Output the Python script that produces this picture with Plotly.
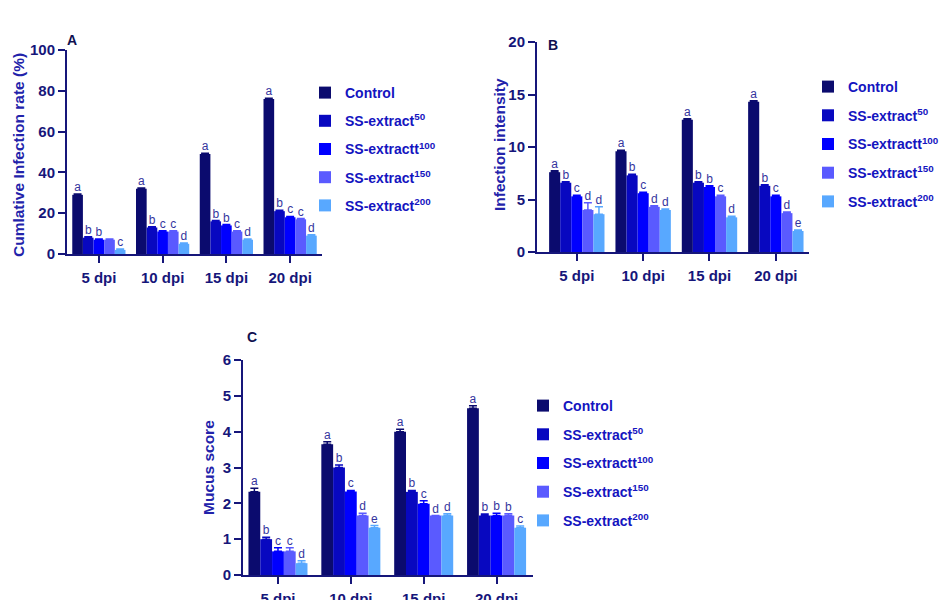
import plotly.graph_objects as go

W, H = 952, 600
OFF = 8  # page body margin of the rendered html

timepoints = ["5 dpi", "10 dpi", "15 dpi", "20 dpi"]
treatments = ["Control", "SS-extract<sup>50</sup>", "SS-extractt<sup>100</sup>",
              "SS-extract<sup>150</sup>", "SS-extract<sup>200</sup>"]
colors = ["#0b0b6e", "#0808c0", "#0000ff", "#5a5aff", "#58a8ff"]

# Panel A: cumulative infection rate (%) per treatment across timepoints
rate_vals = [[29, 32, 49, 76], [8, 13, 16, 21], [7, 11, 14, 18], [7, 11, 11, 17], [2, 5, 7, 9]]
rate_err = [[0.4, 0.4, 0.4, 0.4]] * 5
rate_letters = [["a", "a", "a", "a"], ["b", "b", "b", "b"], ["b", "c", "b", "c"],
                ["", "c", "c", "c"], ["c", "d", "d", "d"]]

# Panel B: infection intensity
inten_vals = [[7.6, 9.6, 12.6, 14.3], [6.6, 7.3, 6.6, 6.3], [5.3, 5.6, 6.2, 5.3],
              [4.0, 4.3, 5.3, 3.7], [3.6, 4.0, 3.3, 2.0]]
inten_err = [[0.15, 0.1, 0.1, 0.1], [0.1, 0.1, 0.1, 0.1], [0.1, 0.1, 0.1, 0.1],
             [0.7, 0.1, 0.1, 0.1], [0.7, 0.1, 0.1, 0.1]]
inten_letters = [["a", "a", "a", "a"], ["b", "b", "b", "b"], ["c", "c", "b", "c"],
                 ["d", "d", "c", "d"], ["d", "d", "d", "e"]]

# Panel C: mucus score
mucus_vals = [[2.32, 3.65, 4.0, 4.65], [1.0, 3.0, 2.32, 1.66], [0.66, 2.33, 1.99, 1.66],
              [0.66, 1.66, 1.66, 1.66], [0.33, 1.32, 1.66, 1.32]]
mucus_err = [[0.1, 0.07, 0.07, 0.07], [0.05, 0.07, 0.04, 0.04], [0.1, 0.03, 0.08, 0.06],
             [0.1, 0.06, 0.0, 0.05], [0.07, 0.06, 0.05, 0.05]]
mucus_letters = [["a", "a", "a", "a"], ["b", "b", "b", "b"], ["c", "c", "c", "b"],
                 ["c", "d", "d", "b"], ["d", "e", "d", "c"]]

NAVY = "#16167a"
TITLE_BLUE = "#2222aa"
LEG_BLUE = "#1414c0"
LETTER = "#35359e"
FONT = "Liberation Sans, Arial, sans-serif"


def px_x(p):
    return (p - OFF) / W


def px_y(p):
    return 1 - (p - OFF) / H


panels = [
    dict(vals=rate_vals, err=rate_err, letters=rate_letters, xa="x", ya="y",
         xd=[67, 322], yd=[50, 254], xr=[-0.5, 3.5], yr=[0, 100], dt=20, w=0.167,
         legend="legend", title="Cumlative Infection rate (%)", tx=18, ty=155,
         label="A", lx=72, ly=40),
    dict(vals=inten_vals, err=inten_err, letters=inten_letters, xa="x2", ya="y2",
         xd=[537, 809], yd=[42, 252], xr=[-0.6, 3.5], yr=[0, 20], dt=5, w=0.167,
         legend="legend2", title="Infection intensity", tx=500, ty=145,
         label="B", lx=553, ly=45),
    dict(vals=mucus_vals, err=mucus_err, letters=mucus_letters, xa="x3", ya="y3",
         xd=[243, 533], yd=[360, 575], xr=[-0.48, 3.5], yr=[0, 6], dt=1, w=0.162,
         legend="legend3", title="Mucus score", tx=208, ty=468,
         label="C", lx=252, ly=337),
]

fig = go.Figure()
annotations = []
layout = {}

for pi, p in enumerate(panels):
    for j in range(5):
        xs = [i + (j - 2) * p["w"] for i in range(len(timepoints))]
        fig.add_trace(go.Bar(
            x=xs, y=p["vals"][j], width=p["w"], name=treatments[j],
            marker=dict(color=colors[j], line=dict(width=0)),
            error_y=dict(type="data", array=p["err"][j], symmetric=False,
                         arrayminus=[0] * 4, color=colors[j], thickness=1.5, width=4),
            xaxis=p["xa"], yaxis=p["ya"], legend=p["legend"],
            legendgroup=f"{pi}-{j}", showlegend=True,
        ))
        fig.add_trace(go.Scatter(
            x=xs, y=[v + e for v, e in zip(p["vals"][j], p["err"][j])],
            mode="text", text=p["letters"][j], textposition="top center",
            textfont=dict(size=12, color=LETTER, family=FONT),
            xaxis=p["xa"], yaxis=p["ya"], showlegend=False, hoverinfo="skip",
            cliponaxis=False,
        ))
    suffix = "" if pi == 0 else str(pi + 1)
    layout["xaxis" + suffix] = dict(
        domain=[px_x(p["xd"][0]), px_x(p["xd"][1])], range=p["xr"],
        anchor="y" + suffix, tickmode="array", tickvals=[0, 1, 2, 3], ticktext=timepoints,
        showline=True, linecolor=NAVY, linewidth=2, ticks="outside", ticklen=7,
        tickwidth=2, tickcolor=NAVY, showgrid=False, zeroline=False,
        tickfont=dict(size=15, color=NAVY, family=FONT, weight="bold"),
        ticklabelstandoff=2, fixedrange=True, automargin=False,
    )
    layout["yaxis" + suffix] = dict(
        domain=[px_y(p["yd"][1]), px_y(p["yd"][0])], range=p["yr"], dtick=p["dt"],
        anchor="x" + suffix, showline=True, linecolor=NAVY, linewidth=2,
        ticks="outside", ticklen=7, tickwidth=2, tickcolor=NAVY, showgrid=False,
        zeroline=False, tickfont=dict(size=15, color=NAVY, family=FONT, weight="bold"),
        ticklabelstandoff=0, fixedrange=True, automargin=False,
    )
    annotations.append(dict(
        text=p["title"], x=px_x(p["tx"]), y=px_y(p["ty"]), xref="paper", yref="paper",
        textangle=-90, showarrow=False, xanchor="center", yanchor="middle",
        font=dict(size=15.5, color=TITLE_BLUE, family=FONT, weight="bold"),
    ))
    annotations.append(dict(
        text=p["label"], x=px_x(p["lx"]), y=px_y(p["ly"]), xref="paper", yref="paper",
        showarrow=False, xanchor="center", yanchor="middle",
        font=dict(size=14, color="#101050", family=FONT, weight="bold"),
    ))

legend_style = dict(
    font=dict(size=14, color=LEG_BLUE, family=FONT, weight="bold"),
    bgcolor="rgba(0,0,0,0)", traceorder="grouped", tracegroupgap=7,
    xanchor="left", yanchor="top", xref="paper", yref="paper",
)
layout["legend"] = dict(legend_style, x=px_x(305), y=px_y(77))
layout["legend2"] = dict(legend_style, x=px_x(808), y=px_y(71), tracegroupgap=7.5)
layout["legend3"] = dict(legend_style, x=px_x(523), y=px_y(390), tracegroupgap=7.5)

fig.update_layout(
    width=W, height=H, margin=dict(l=0, r=0, t=0, b=0),
    paper_bgcolor="white", plot_bgcolor="white", barmode="overlay",
    annotations=annotations, font=dict(family=FONT), **layout,
)

fig.write_html("out.html")
